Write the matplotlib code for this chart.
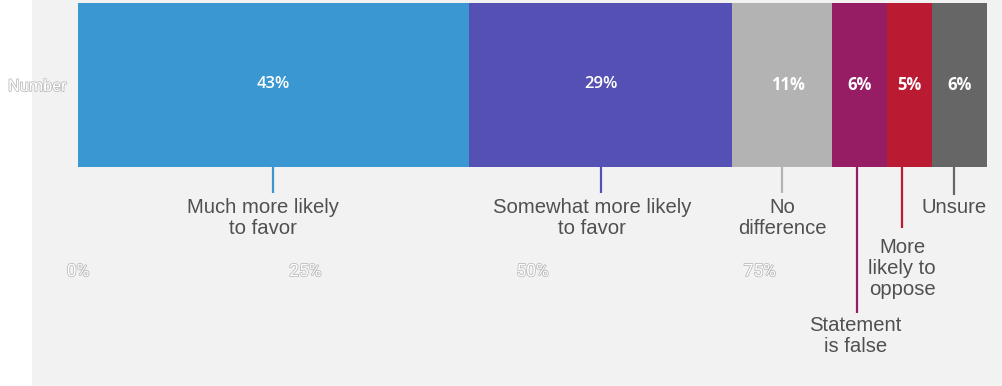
import matplotlib
matplotlib.use("Agg")
import matplotlib.pyplot as plt
import matplotlib.patheffects as pe
from matplotlib.patches import Rectangle
import numpy as np

# ---- data ----
category = "Number"
segments = ["Much more likely\nto favor", "Somewhat more likely\nto favor", "No\ndifference",
            "Statement\nis false", "More\nlikely to\noppose", "Unsure"]
values = [43, 29, 11, 6, 5, 6]
value_labels = ["43%", "29%", "11%", "6%", "5%", "6%"]
colors = ["#3b97d1", "#5551b4", "#b3b3b3", "#961c63", "#bb1b32", "#666666"]
tick_values = [0, 25, 50, 75]
tick_labels = ["0%", "25%", "50%", "75%"]

W, H = 1002, 386
fig = plt.figure(figsize=(W / 100, H / 100), dpi=100)
fig.patch.set_facecolor("white")
bg = Rectangle((32 / W, 0), 1 - 32 / W, 1, transform=fig.transFigure,
               facecolor="#f2f2f2", edgecolor="none", zorder=-10)
fig.patches.append(bg)

bar_l, bar_r, bar_t, bar_b = 78, 987, 3, 167
ax = fig.add_axes([bar_l / W, (H - bar_b) / H, (bar_r - bar_l) / W, (bar_b - bar_t) / H])
ax.set_zorder(5)
ax.set_xlim(0, 100)
ax.set_ylim(-0.5, 0.5)
ax.patch.set_alpha(0)
for s in ax.spines.values():
    s.set_visible(False)

lefts = np.concatenate([[0], np.cumsum(values)[:-1]])
ax.barh([0] * len(values), values, left=lefts, height=1.0, color=colors, edgecolor="none")

px = 100 / (bar_r - bar_l)  # data units per pixel


def ypix(y):
    # convert pixel row to data y
    return 0.5 - (y - bar_t) / (bar_b - bar_t)


weights = ["semibold", "semibold", "bold", "bold", "bold", "bold"]
lab_off = [0, 0, 5, 0, 0, 0]
for left, v, lab, w, lo in zip(lefts, values, value_labels, weights, lab_off):
    ax.text(left + v / 2 + lo * px, ypix(84.5), lab, ha="center", va="center", color="white",
            fontsize=12, fontweight=w, family="Open Sans")

# leader lines and labels
line_off = [0, 0, 0, -3, -7.5, -6]
text_off = [-10, -8.5, 0, -4.5, -7.5, -6]
line_end = [193, 193, 193, 313, 228, 195]
text_base = [234, 234, 234, 352, 295, 213]  # baseline of last line
for left, v, seg, c, lo, to, le, tb in zip(lefts, values, segments, colors,
                                          line_off, text_off, line_end, text_base):
    xc = left + v / 2
    ax.plot([xc + lo * px] * 2, [ypix(bar_b), ypix(le)], color=c, lw=1.6,
            clip_on=False, solid_capstyle="butt")
    ax.text(xc + to * px, ypix(tb), seg, ha="center", va="baseline", color="#505050",
            fontsize=14.6, family="Liberation Sans", linespacing=1.13,
            multialignment="center", clip_on=False)

outline = [pe.Stroke(linewidth=1.1, foreground="#b8b8b8"), pe.Normal()]
ax.set_yticks([0])
ax.set_yticklabels([category])
ax.tick_params(axis="y", length=0, pad=8)
for t in ax.get_yticklabels():
    t.set_color("white")
    t.set_fontsize(11.8)
    t.set_family("Roboto")
    t.set_path_effects(outline)

ax.set_xticks(tick_values)
ax.set_xticklabels(tick_labels)
ax.tick_params(axis="x", length=0, pad=70)
for t in ax.get_xticklabels():
    t.set_color("white")
    t.set_fontsize(12.5)
    t.set_family("Roboto")
    t.set_path_effects(outline)

fig.savefig("out.png", dpi=100)
